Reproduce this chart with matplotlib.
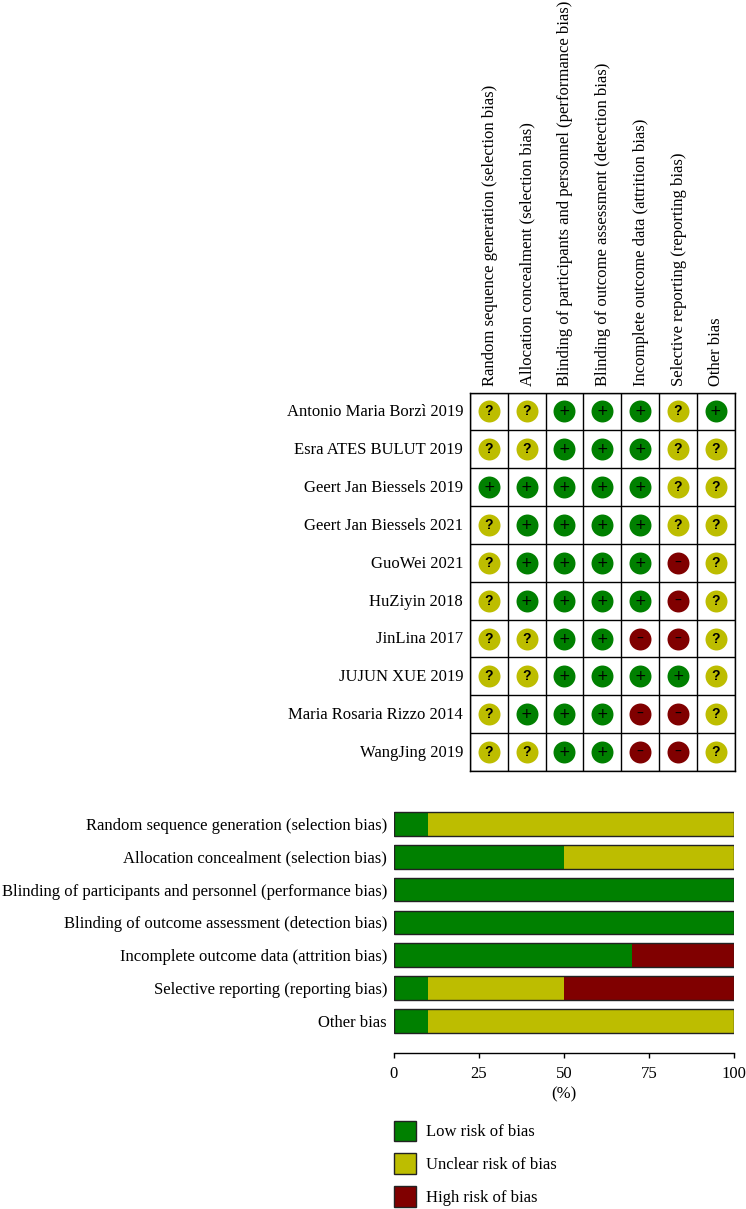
import matplotlib
matplotlib.use("Agg")
import matplotlib.pyplot as plt
from matplotlib.patches import Patch

plt.rcParams['font.family'] = ['Liberation Serif', 'DejaVu Serif']

domains = ["Random sequence generation (selection bias)",
           "Allocation concealment (selection bias)",
           "Blinding of participants and personnel (performance bias)",
           "Blinding of outcome assessment (detection bias)",
           "Incomplete outcome data (attrition bias)",
           "Selective reporting (reporting bias)",
           "Other bias"]
studies = ["Antonio Maria Borzì 2019", "Esra ATES BULUT 2019", "Geert Jan Biessels 2019",
           "Geert Jan Biessels 2021", "GuoWei 2021", "HuZiyin 2018", "JinLina 2017",
           "JUJUN XUE 2019", "Maria Rosaria Rizzo 2014", "WangJing 2019"]
judgements = ["??+++?+", "??+++??", "+++++??", "?++++??", "?++++-?",
              "?++++-?", "??++--?", "??++++?", "?+++--?", "??++--?"]
low = [10, 50, 100, 100, 70, 10, 10]
unclear = [90, 50, 0, 0, 0, 40, 90]
high = [0, 0, 0, 0, 30, 50, 0]
xticks = [0, 25, 50, 75, 100]
legend_labels = ["Low risk of bias", "Unclear risk of bias", "High risk of bias"]

GREEN, YELLOW, RED = "#008000", "#BDBD00", "#800000"
colors = {"+": GREEN, "?": YELLOW, "-": RED}
glyphs = {"+": "+", "?": "?", "-": "–"}

W, H = 746, 1209
fig = plt.figure(figsize=(W / 100, H / 100), dpi=100)

def axes_px(x0, y0, x1, y1):
    return fig.add_axes([x0 / W, 1 - y1 / H, (x1 - x0) / W, (y1 - y0) / H])

FS = 11.95

# Risk-of-bias matrix
ax = axes_px(470, 392.5, 734.5, 771)
ax.set_xlim(0, len(domains))
ax.set_ylim(len(studies), 0)
ax.set_xticks(range(len(domains) + 1))
ax.set_yticks(range(len(studies) + 1))
ax.grid(True, color="black", lw=1.0)
ax.set_axisbelow(True)
ax.tick_params(length=0, labelleft=False, labelbottom=False)
for s in ax.spines.values():
    s.set_linewidth(1.0)
for r, row in enumerate(judgements):
    for c, j in enumerate(row):
        ax.scatter(c + 0.5, r + 0.5, s=250, color=colors[j], linewidths=0, zorder=3)
        if j == "?":
            ax.text(c + 0.5, r + 0.5, glyphs[j], ha="center", va="center", fontsize=10,
                    fontweight="bold", family="Liberation Sans", color="black", zorder=4)
        else:
            ax.text(c + 0.5, r + 0.5, glyphs[j], ha="center", va="center", fontsize=10,
                    family="DejaVu Sans", color="black", zorder=4)
for r, name in enumerate(studies):
    ax.annotate(name, (0, r + 0.5), xytext=(-5, -0.7), textcoords="offset points",
                ha="right", va="center", fontsize=FS, annotation_clip=False)
for c, name in enumerate(domains):
    ax.annotate(name, (c + 0.5, 0), xytext=(0.6, 4.5), textcoords="offset points",
                ha="center", va="bottom", rotation=90, fontsize=FS, annotation_clip=False)

# Summary bars
bx = axes_px(394, 808, 734, 1053)
y = list(range(len(domains)))
bx.barh(y, low, height=0.72, color=GREEN, linewidth=0)
bx.barh(y, unclear, left=low, height=0.72, color=YELLOW, linewidth=0)
left2 = [a + b for a, b in zip(low, unclear)]
bx.barh(y, high, left=left2, height=0.72, color=RED, linewidth=0)
bx.barh(y, [a + b for a, b in zip(left2, high)], height=0.72, fill=False,
        edgecolor="#222222", linewidth=1.0, zorder=3)
bx.set_xlim(0, 100)
bx.set_ylim(6.98, -0.49)
bx.set_yticks(y)
bx.set_yticklabels(domains, fontsize=FS)
bx.tick_params(axis="y", length=0, pad=5)
bx.set_xticks(xticks)
bx.tick_params(axis="x", length=3.6, width=1.0, labelsize=FS, pad=5.5)
for k in ("top", "left", "right"):
    bx.spines[k].set_visible(False)
bx.spines["bottom"].set_linewidth(1.0)
bx.set_xlabel("(%)", fontsize=FS, labelpad=3.5)

# Legend
handles = [Patch(facecolor=c, edgecolor="#222222", linewidth=1.0) for c in (GREEN, YELLOW, RED)]
fig.legend(handles, legend_labels, loc="upper left", bbox_to_anchor=(394 / W, 1 - 1120.5 / H),
           frameon=False, fontsize=FS, handlelength=1.33, handleheight=1.55,
           handletextpad=0.62, labelspacing=0.72, borderpad=0, borderaxespad=0)

fig.savefig("out.png", dpi=100)
